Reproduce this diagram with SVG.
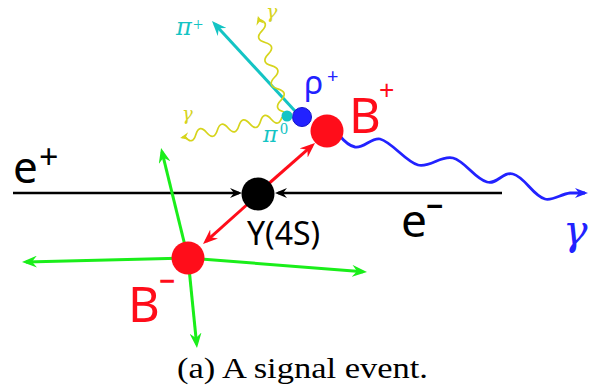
<svg xmlns="http://www.w3.org/2000/svg" width="589" height="391" viewBox="0 0 589 391">
<style>
.sans{font-family:"Noto Sans","Open Sans","DejaVu Sans",sans-serif}
.serif{font-family:"Liberation Serif","DejaVu Serif",serif}
.ital{font-family:"DejaVu Serif","Liberation Serif",serif;font-style:italic}
.ln{fill:none;stroke-linecap:butt}
</style>
<defs>
<marker id="ak" viewBox="-12 -5 14 10" refX="-3" refY="0" markerWidth="14" markerHeight="10" markerUnits="userSpaceOnUse" orient="auto"><path d="M0,0 L-12,-5 L-8,0 L-12,5Z" fill="#000"/></marker>
<marker id="ar" viewBox="-15 -6 16 12" refX="-4" refY="0" markerWidth="16" markerHeight="12" markerUnits="userSpaceOnUse" orient="auto"><path d="M0,0 L-15,-6 L-10,0 L-15,6Z" fill="#ff0d1a"/></marker>
<marker id="ag" viewBox="-15 -6 16 12" refX="-4" refY="0" markerWidth="16" markerHeight="12" markerUnits="userSpaceOnUse" orient="auto"><path d="M0,0 L-15,-6 L-10,0 L-15,6Z" fill="#1aee1a"/></marker>
<marker id="ac" viewBox="-15 -6 16 12" refX="-4" refY="0" markerWidth="16" markerHeight="12" markerUnits="userSpaceOnUse" orient="auto"><path d="M0,0 L-15,-6 L-10,0 L-15,6Z" fill="#14c4c4"/></marker>
<marker id="ay" viewBox="-9 -4 10 8" refX="-2" refY="0" markerWidth="10" markerHeight="8" markerUnits="userSpaceOnUse" orient="auto"><path d="M0,0 L-9,-4 L-6,0 L-9,4Z" fill="#d6d41c"/></marker>
<marker id="ab" viewBox="-13 -5 14 10" refX="-3" refY="0" markerWidth="14" markerHeight="10" markerUnits="userSpaceOnUse" orient="auto"><path d="M0,0 L-13,-5 L-9,0 L-13,5Z" fill="#2222ff"/></marker>
</defs>

<g id="connectors">
<path class="ln" d="M13,193 L239,193" stroke="#000" stroke-width="2.5" marker-end="url(#ak)"/>
<path class="ln" d="M502,193 L278,193" stroke="#000" stroke-width="2.5" marker-end="url(#ak)"/>
<path class="ln" d="M266,186 L312,145.7" stroke="#ff0d1a" stroke-width="3" marker-end="url(#ar)"/>
<path class="ln" d="M250,202 L206,241.3" stroke="#ff0d1a" stroke-width="3" marker-end="url(#ar)"/>
<path class="ln" d="M188,258 L162,151.9" stroke="#1aee1a" stroke-width="3" marker-end="url(#ag)"/>
<path class="ln" d="M188,258 L26,261.9" stroke="#1aee1a" stroke-width="3" marker-end="url(#ag)"/>
<path class="ln" d="M188,258 L363,271.7" stroke="#1aee1a" stroke-width="3" marker-end="url(#ag)"/>
<path class="ln" d="M188,258 L196.6,344" stroke="#1aee1a" stroke-width="3" marker-end="url(#ag)"/>
<path class="ln" d="M295,111 L214.7,23.9" stroke="#14c4c4" stroke-width="3" marker-end="url(#ac)"/>
<path class="ln" transform="translate(284,112) rotate(-105.2)" d="M0,0 Q6,-10 12,0 T24,0 T36,0 T48,0 T60,0 T72,0 T84,0 T96,0 L97.5,0" stroke="#d6d41c" stroke-width="1.7" marker-end="url(#ay)"/>
<path class="ln" transform="translate(282,117) rotate(168.4)" d="M0,0 Q5.5,-10 11,0 T22,0 T33,0 T44,0 T55,0 T66,0 T77,0 T88,0 T99,0 L102,0" stroke="#d6d41c" stroke-width="1.7" marker-end="url(#ay)"/>
<path class="ln" d="M339,135 C344,141 349,146 355,147 C363,149 372,137 380,139 C392,142 406,162 418,165 C430,168 441,155 453,158 C465,161 475,179 487,182 C497,185 503,171 513,174 C525,177 533,196 545,199 C553,201 561,194 570,193 L585,193" stroke="#2222ff" stroke-width="2.8" marker-end="url(#ab)"/>
</g>

<g id="node-upsilon">
<circle cx="258" cy="194" r="16.5" fill="#000"/>
<text class="sans" x="247" y="245" font-size="32" fill="#000">Y(4S)</text>
</g>
<g id="node-bplus">
<circle cx="327" cy="131" r="16.5" fill="#ff0d1a"/>
<text class="sans" x="349" y="133" font-size="49" fill="#ff0d1a">B</text>
<text class="sans" x="379" y="100" font-size="27" fill="#ff0d1a">+</text>
</g>
<g id="node-rho">
<circle cx="302" cy="117" r="9.5" fill="#2222ff" stroke="#1414c8" stroke-width="1"/>
<text class="sans" x="304" y="94" font-size="32" fill="#2222ff">ρ</text>
<text class="sans" x="327" y="83" font-size="20" fill="#2222ff">+</text>
</g>
<g id="node-pi0">
<circle cx="287" cy="116" r="5.5" fill="#14c4c4"/>
<text class="ital" x="263" y="142" font-size="22" fill="#14c4c4">π</text>
<text class="serif" x="280" y="134" font-size="16" fill="#14c4c4">0</text>
</g>
<g id="node-piplus">
<text class="ital" x="176" y="35" font-size="24" fill="#14c4c4">π</text>
<text class="serif" x="193" y="31" font-size="18" fill="#14c4c4">+</text>
</g>
<g id="node-gamma-top">
<text class="ital" x="266" y="18" font-size="19" fill="#d6d41c">γ</text>
</g>
<g id="node-gamma-left">
<text class="ital" x="182" y="120" font-size="18" fill="#d6d41c">γ</text>
</g>
<g id="node-gamma-blue">
<text class="ital" x="563" y="244" font-size="41" fill="#2222ff">γ</text>
</g>
<g id="node-bminus">
<circle cx="188" cy="258" r="16.5" fill="#ff0d1a"/>
<text class="sans" x="128" y="322" font-size="49" fill="#ff0d1a">B</text>
<text class="sans" x="159" y="291" font-size="28" font-weight="bold" fill="#ff0d1a">−</text>
</g>
<g id="node-eplus">
<text class="sans" x="13" y="183" font-size="44" fill="#000">e</text>
<text class="sans" x="39" y="169" font-size="34" fill="#000">+</text>
</g>
<g id="node-eminus">
<text class="sans" x="401" y="237" font-size="46" fill="#000">e</text>
<text class="sans" x="426" y="217" font-size="30" font-weight="bold" fill="#000">−</text>
</g>
<g id="caption">
<text class="serif" x="177" y="378" font-size="29" textLength="251" lengthAdjust="spacingAndGlyphs" fill="#000">(a) A signal event.</text>
</g>
</svg>
